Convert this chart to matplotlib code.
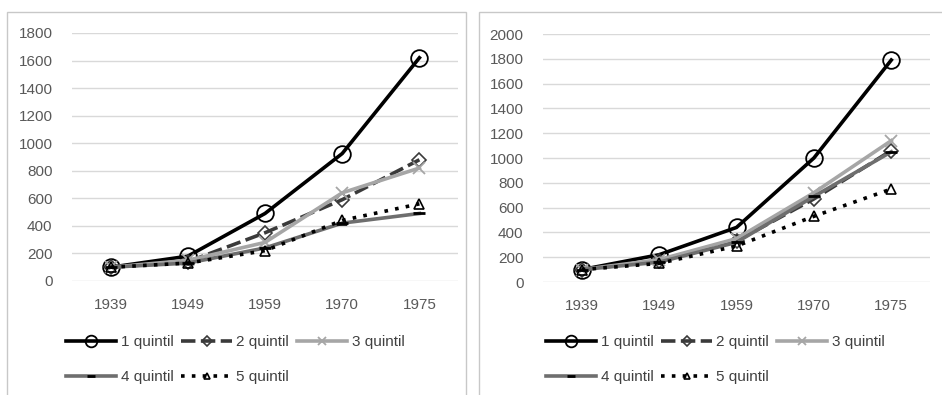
import numpy as np
import matplotlib.pyplot as plt
from matplotlib.patches import Rectangle

years = ['1939', '1949', '1959', '1970', '1975']
labels = ['1 quintil', '2 quintil', '3 quintil', '4 quintil', '5 quintil']

left_q1 = [100, 180, 490, 925, 1620]
left_q2 = [100, 140, 350, 590, 880]
left_q3 = [100, 150, 280, 640, 820]
left_q4 = [100, 130, 240, 420, 490]
left_q5 = [100, 130, 220, 440, 560]

right_q1 = [100, 220, 440, 1000, 1790]
right_q2 = [100, 170, 330, 670, 1060]
right_q3 = [100, 180, 350, 720, 1140]
right_q4 = [100, 160, 320, 690, 1050]
right_q5 = [100, 150, 290, 530, 750]

plt.rcParams['font.family'] = ['Liberation Sans Narrow', 'Liberation Sans', 'DejaVu Sans']

W, H = 942, 395
fig = plt.figure(figsize=(W / 100, H / 100), dpi=100)

# panel frames
for x0, x1 in [(7, 466), (479, 950)]:
    fig.patches.append(Rectangle((x0 / W, -0.1), (x1 - x0) / W, (H - 12) / H + 0.1,
                                 transform=fig.transFigure, fill=False,
                                 edgecolor='#c8c8c8', lw=1.0))

styles = [
    dict(color='black', ls='-', lw=2.6, marker='o', ms=12, mfc='none', mec='black', mew=1.3),
    dict(color='#3a3a3a', ls=(0, (4, 1.5)), lw=2.6, marker='D', ms=7, mfc='none', mec='#3a3a3a', mew=1.2),
    dict(color='#a6a6a6', ls='-', lw=2.6, marker='x', ms=9, mec='#a6a6a6', mew=1.3),
    dict(color='#6e6e6e', ls='-', lw=2.6, marker='_', ms=8, mec='black', mew=2),
    dict(color='black', ls=(0, (1, 2)), lw=2.6, marker='^', ms=7, mfc='none', mec='black', mew=1.2),
]


def draw(ax_px, series, ymax):
    l, r, top, bot = ax_px
    ax = fig.add_axes([l / W, 1 - bot / H, (r - l) / W, (bot - top) / H])
    x = np.arange(len(years))
    handles = []
    for s, lab, st in zip(series, labels, styles):
        h, = ax.plot(x, s, label=lab, **st)
        handles.append(h)
    ax.set_xlim(-0.5, len(years) - 0.5)
    ax.set_ylim(0, ymax)
    ax.set_yticks(np.arange(0, ymax + 1, 200))
    ax.set_xticks(x)
    ax.set_xticklabels(years)
    ax.grid(axis='y', color='#d9d9d9', lw=1)
    ax.set_axisbelow(True)
    for sp in ax.spines.values():
        sp.set_visible(False)
    ax.tick_params(length=0, labelsize=11, colors='#595959', pad=12)
    ax.tick_params(axis='y', pad=14)
    return ax, handles


axL, hL = draw((72, 458, 33, 281), [left_q1, left_q2, left_q3, left_q4, left_q5], 1800)
axR, hR = draw((543, 930, 34, 282), [right_q1, right_q2, right_q3, right_q4, right_q5], 2000)

# reorder so the legend reads row by row
order = [0, 3, 1, 4, 2]
for h, px in [(hL, 66), (hR, 546)]:
    fig.legend([h[i] for i in order], [labels[i] for i in order], ncol=3,
               loc='upper left', bbox_to_anchor=(px / W, 1 - 335 / H),
               frameon=False, fontsize=11, handlelength=3.3, handletextpad=0.3,
               columnspacing=0.5, labelspacing=1.4, borderaxespad=0, borderpad=0,
               markerscale=0.7, labelcolor='#404040')

fig.savefig('out.png', dpi=100)
